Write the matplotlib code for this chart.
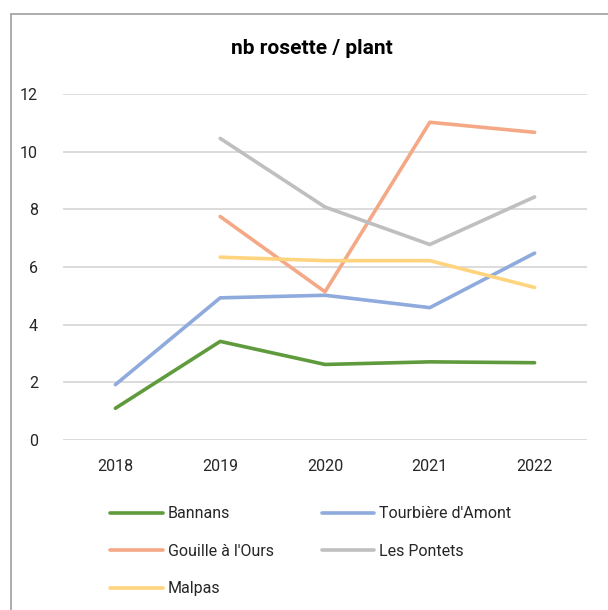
import matplotlib.pyplot as plt
from matplotlib.patches import Rectangle

plt.rcParams['font.family'] = ['Roboto', 'DejaVu Sans']

years = ['2018', '2019', '2020', '2021', '2022']
bannans = [1.1, 3.42, 2.62, 2.71, 2.68]
tourbiere = [1.92, 4.93, 5.02, 4.59, 6.48]
gouille = [None, 7.75, 5.14, 11.02, 10.67]
pontets = [None, 10.46, 8.08, 6.78, 8.43]
malpas = [None, 6.34, 6.22, 6.22, 5.29]

names = ['Bannans', "Tourbière d'Amont", "Gouille à l'Ours", 'Les Pontets', 'Malpas']
series = [bannans, tourbiere, gouille, pontets, malpas]
colors = ['#5f9b3d', '#8faadc', '#f4a886', '#bfbfbf', '#ffd47f']

fig = plt.figure(figsize=(6.08, 6.10), dpi=100)
ax = fig.add_axes([63 / 608, 1 - 440 / 610, 524 / 608, 346 / 610])

# chart area border like Excel
fig.patches.append(Rectangle((11 / 608, -0.1), 1.2, 1 - 14 / 610 + 0.1,
                             transform=fig.transFigure, fill=False,
                             edgecolor='#a6a6a6', linewidth=1.3))

x = list(range(len(years)))
lines = []
for vals, name, c in zip(series, names, colors):
    xs = [i for i, v in zip(x, vals) if v is not None]
    ys = [v for v in vals if v is not None]
    ln, = ax.plot(xs, ys, color=c, linewidth=2.6, label=name, solid_capstyle='round')
    lines.append(ln)

ax.set_xlim(-0.5, 4.5)
ax.set_ylim(0, 12)
ax.set_yticks(range(0, 13, 2))
ax.set_xticks(x)
ax.set_xticklabels(years)
ax.grid(axis='y', color='#d9d9d9', linewidth=1.3)
ax.set_axisbelow(True)
for s in ax.spines.values():
    s.set_visible(False)
ax.tick_params(length=0, labelsize=11.5, colors='#262626')
ax.tick_params(axis='y', pad=18)
ax.tick_params(axis='x', pad=14)

fig.text(312 / 608, 1 - 48 / 610, 'nb rosette / plant', ha='center', va='center',
         fontsize=15, fontweight='bold', color='black')

# legend is filled row by row in the reference
order = [0, 2, 4, 1, 3]
fig.legend([lines[i] for i in order], [names[i] for i in order],
           loc='upper left', bbox_to_anchor=(96 / 608, 1 - 492 / 610), ncol=2,
           frameon=False, fontsize=11.5, handlelength=3.3, handletextpad=0.3,
           labelspacing=1.4, columnspacing=3.0, labelcolor='#262626')

fig.savefig('out.png', dpi=100)
